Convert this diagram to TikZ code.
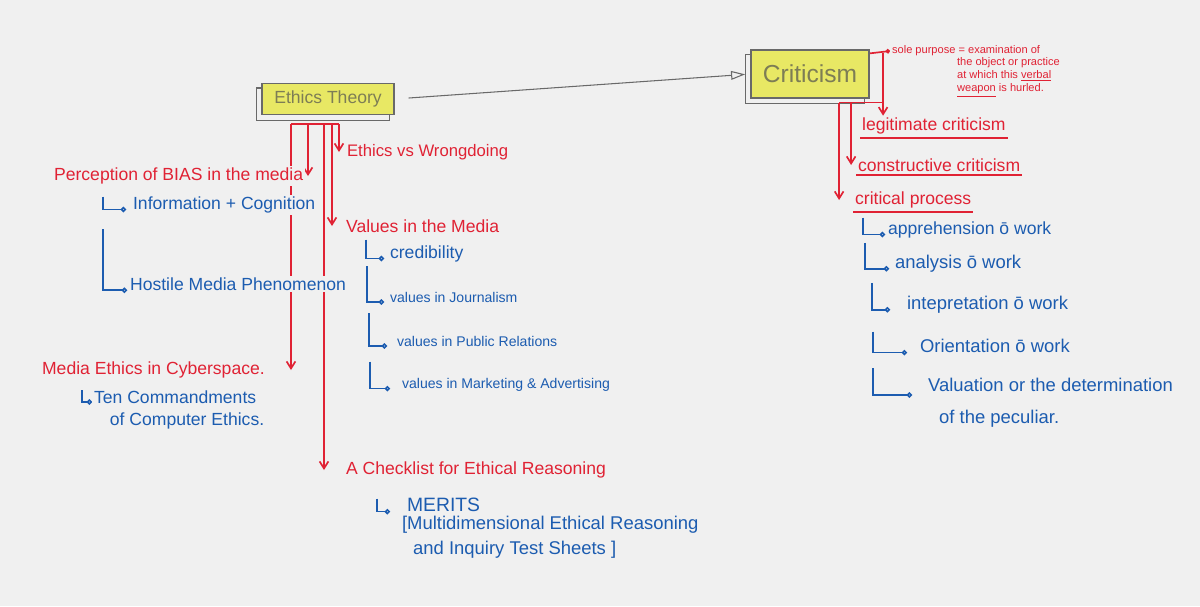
\documentclass[tikz,border=0pt]{standalone}
\usepackage{fontspec}
\setmainfont{Liberation Sans}
\usetikzlibrary{arrows.meta}
\definecolor{paper}{RGB}{240,240,240}
\definecolor{inkred}{RGB}{224,34,52}
\definecolor{inkblue}{RGB}{28,92,176}
\definecolor{marker}{RGB}{232,232,100}
\definecolor{pencil}{RGB}{105,105,105}
\definecolor{markertext}{RGB}{125,125,85}
\pgfdeclarelayer{sheet}
\pgfdeclarelayer{ink}
\pgfsetlayers{sheet,ink,main}

\tikzset{
  topic/.style={draw=pencil, fill=marker, text=markertext, line width=0.7pt},
  redhead/.style={anchor=west, text=inkred, fill=paper, inner sep=1pt,
    font=\fontsize{10}{12}\selectfont},
  bluetext/.style={anchor=west, text=inkblue, fill=paper, inner sep=1pt, align=left},
  redline/.style={draw=inkred, line width=0.95pt},
  redarrow/.style={redline, -{Straight Barb[length=4pt,width=5pt]}},
  leafline/.style={draw=inkblue, line width=0.9pt, -{Circle[open,length=3pt,width=3pt]}},
  flow/.style={draw=pencil, line width=0.6pt, -{Triangle[open,length=8pt,width=5pt]}},
}

\begin{document}
\begin{tikzpicture}[x=0.02cm, y=-0.02cm]
  \useasboundingbox (0,0) rectangle (1200,606);
  \begin{pgfonlayer}{sheet}
    \fill[paper] (0,0) rectangle (1200,606);
  \end{pgfonlayer}

  % the two main topics
  \node[topic, minimum width=2.64cm, minimum height=0.62cm,
        font=\fontsize{10}{12}\selectfont] (ethics) at (328,99) {Ethics Theory};
  \node[topic, minimum width=2.36cm, minimum height=0.96cm,
        font=\fontsize{14}{16}\selectfont] (crit) at (810,74) {Criticism};

  % ethics theory, left side
  \node[redhead] (bias) at (52,176) {Perception of BIAS in the media};
  \node[bluetext, font=\fontsize{10}{12}\selectfont] (info) at (131,205) {Information + Cognition};
  \node[bluetext, font=\fontsize{10}{12}\selectfont] (hostile) at (128,284) {Hostile Media Phenomenon};
  \node[redhead] (cyber) at (40,370) {Media Ethics in Cyberspace.};
  \node[bluetext, font=\fontsize{10}{12.5}\selectfont] (ten) at (92,410)
    {Ten Commandments\\\hspace*{0.9em}of Computer Ethics.};

  % ethics theory, middle
  \node[redhead, font=\fontsize{9.5}{12}\selectfont] (wrong) at (345,152) {Ethics vs Wrongdoing};
  \node[redhead] (values) at (344,226) {Values in the Media};
  \node[bluetext, font=\fontsize{10}{12}\selectfont] (cred) at (388,254) {credibility};
  \node[bluetext, font=\fontsize{8}{10}\selectfont] (journ) at (388,297) {values in Journalism};
  \node[bluetext, font=\fontsize{8}{10}\selectfont] (pr) at (395,341) {values in Public Relations};
  \node[bluetext, font=\fontsize{8}{10}\selectfont] (mkt) at (400,385) {values in Marketing \& Advertising};
  \node[redhead] (check) at (344,470) {A Checklist for Ethical Reasoning};
  \node[bluetext, font=\fontsize{11}{13}\selectfont] (merits) at (405,505) {MERITS};
  \node[bluetext, font=\fontsize{10.5}{14}\selectfont] (mtext) at (400,537)
    {[Multidimensional Ethical Reasoning\\\hspace*{0.6em}and Inquiry Test Sheets ]};

  % criticism side
  \node[redhead, font=\fontsize{6.3}{7.5}\selectfont] (note1) at (890,51) {sole purpose = examination of};
  \node[redhead, font=\fontsize{6.3}{7.4}\selectfont, align=left, anchor=north west] (note2) at (955,55)
    {the object or practice\\at which this \underline{verbal}\\\underline{weapon} is hurled.};
  \node[redhead] (legit) at (860,126) {legitimate criticism};
  \node[redhead] (construct) at (856,165) {constructive criticism};
  \node[redhead] (process) at (853,200) {critical process};
  \node[bluetext, font=\fontsize{10}{12}\selectfont] (appr) at (886,230) {apprehension ō work};
  \node[bluetext, font=\fontsize{10.5}{12}\selectfont] (anal) at (893,264) {analysis ō work};
  \node[bluetext, font=\fontsize{10.5}{12}\selectfont] (interp) at (905,305) {intepretation ō work};
  \node[bluetext, font=\fontsize{10.5}{12}\selectfont] (orient) at (918,346) {Orientation ō work};
  \node[bluetext, font=\fontsize{10.5}{18}\selectfont] (valu) at (926,403)
    {Valuation or the determination\\\hspace*{0.6em}of the peculiar.};

  \begin{pgfonlayer}{ink}
    % offset frames behind the marker boxes
    \foreach \b in {ethics,crit}
      \draw[pencil, line width=0.7pt] ([shift={(-5,5)}]\b.north west) rectangle ([shift={(-5,5)}]\b.south east);

    \draw[flow, shorten <=8pt, shorten >=3pt] (ethics.east) -- (crit.west);

    % red stems under ethics theory
    \coordinate (s1) at ([shift={(-37,9)}]ethics.south);
    \coordinate (s2) at ([shift={(-20,9)}]ethics.south);
    \coordinate (s3) at ([shift={(-4,9)}]ethics.south);
    \coordinate (s4) at ([shift={(4,9)}]ethics.south);
    \coordinate (s5) at ([shift={(11,9)}]ethics.south);
    \draw[redline] (s1) -- (s5);
    \draw[redarrow] (s1) -- (s1 |- cyber.east);
    \draw[redarrow] (s2) -- (s2 |- bias.east);
    \draw[redarrow] (s3) -- (s3 |- check.west);
    \draw[redarrow] (s4) -- (s4 |- values.west);
    \draw[redarrow] (s5) -- (s5 |- wrong.west);

    % red stems under criticism
    \coordinate (cn) at ([shift={(13.5,4)}]crit.north east);
    \coordinate (cb0) at ([shift={(12.5,4)}]crit.south east);
    \coordinate (cb1) at ([shift={(-30.5,4)}]crit.south east);
    \coordinate (cb2) at ([shift={(-18.5,4)}]crit.south east);
    \draw[redline, -{Circle[open,length=2.5pt,width=2.5pt]}] (crit.north east |- cn) -- (note1.west);
    \draw[redarrow] (cn) -- (cn |- legit.north);
    \draw[redline] (cb0) -- (cb1);
    \draw[redarrow] (cb2) -- (cb2 |- construct.west);
    \draw[redarrow] (cb1) -- (cb1 |- process.west);
    \foreach \n in {legit,construct,process}
      \draw[redline] ([yshift=-1pt]\n.south west) -- ([yshift=-1pt]\n.south east);

    % blue sub-items
    \draw[leafline] ([shift={(-28,-13)}]info.base west) |- ([shift={(-5,0)}]info.base west);
    \draw[leafline] ([shift={(-25,-61)}]hostile.base west) |- ([shift={(-1,0)}]hostile.base west);
    \draw[leafline] ([shift={(-10,-20)}]ten.west) |- ([shift={(0,-8)}]ten.west);
    \draw[leafline] ([shift={(-22,-19)}]cred.base west) |- ([shift={(-4,0)}]cred.base west);
    \draw[leafline] ([shift={(-21,-36)}]journ.base west) |- ([shift={(-4,0)}]journ.base west);
    \draw[leafline] ([shift={(-26,-33)}]pr.base west) |- ([shift={(-8,0)}]pr.base west);
    \draw[leafline] ([shift={(-30,-27)}]mkt.base west) |- ([shift={(-10,0)}]mkt.base west);
    \draw[leafline] ([shift={(-28,-13)}]merits.base west) |- ([shift={(-15,0)}]merits.base west);
    \draw[leafline] ([shift={(-23,-17)}]appr.base west) |- ([shift={(-1,0)}]appr.base west);
    \draw[leafline] ([shift={(-28,-26)}]anal.base west) |- ([shift={(-4,0)}]anal.base west);
    \draw[leafline] ([shift={(-33,-27)}]interp.base west) |- ([shift={(-15,0)}]interp.base west);
    \draw[leafline] ([shift={(-45,-21)}]orient.base west) |- ([shift={(-11,0)}]orient.base west);
    \draw[leafline] ([shift={(-53,-35)}]valu.west) |- ([shift={(-14,-8)}]valu.west);
  \end{pgfonlayer}
\end{tikzpicture}
\end{document}
